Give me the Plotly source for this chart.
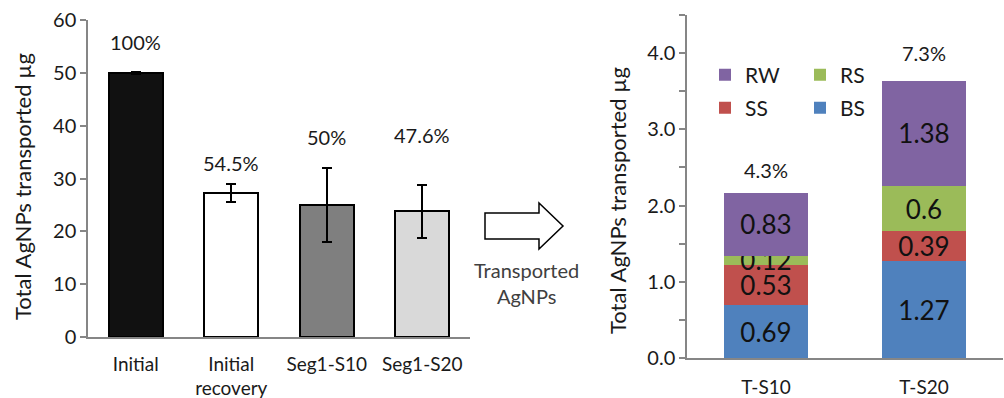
import plotly.graph_objects as go

# ---------------- data ----------------
left_categories = ["Initial", "Initial<br>recovery", "Seg1-S10", "Seg1-S20"]
left_values = [50.0, 27.2, 25.0, 23.8]
left_errors = [0.15, 1.7, 7.0, 5.0]
left_pct = ["100%", "54.5%", "50%", "47.6%"]
left_colors = ["#111111", "#ffffff", "#7f7f7f", "#d9d9d9"]

right_categories = ["T-S10", "T-S20"]
series_names = ["BS", "SS", "RS", "RW"]
bs_values = [0.69, 1.27]
ss_values = [0.53, 0.39]
rs_values = [0.12, 0.60]
rw_values = [0.83, 1.38]
right_pct = ["4.3%", "7.3%"]
series_colors = ["#4f81bd", "#c0504d", "#9bbb59", "#8064a2"]

left_ticks = [0, 10, 20, 30, 40, 50, 60]
right_tickvals = [0, 0.5, 1.0, 1.5, 2.0, 2.5, 3.0, 3.5, 4.0, 4.5]
right_ticktext = ["0.0", "", "1.0", "", "2.0", "", "3.0", "", "4.0", ""]

# layout-only positions for the percentage labels (data units)
left_pct_y = [55.9, 33.0, 37.9, 38.3]
right_pct_y = [2.46, 4.0]

W, H = 1004, 398
FONT = "Lato"
TXT = "#1a1a1a"
AX = "#868686"


def fx(px):
    return px / W


def fy(py):
    return 1 - py / H


fig = go.Figure()

# left chart
fig.add_trace(go.Bar(
    x=left_categories, y=left_values,
    marker=dict(color=left_colors, line=dict(color="#000000", width=2)),
    error_y=dict(type="data", array=left_errors, color="#000000", thickness=2, width=5),
    width=0.57, showlegend=False, xaxis="x", yaxis="y",
))

# right stacked chart
stack = [bs_values, ss_values, rs_values, rw_values]
legend_of = {"BS": "legend2", "SS": "legend2", "RS": "legend", "RW": "legend"}
rank_of = {"RW": 1, "RS": 2, "SS": 1, "BS": 2}
for name, vals, col in zip(series_names, stack, series_colors):
    fig.add_trace(go.Bar(
        x=right_categories, y=vals, name=name,
        marker=dict(color=col, line=dict(width=0)),
        text=[f"{v:g}" for v in vals], textposition="inside",
        insidetextanchor="middle", textangle=0, constraintext="none",
        textfont=dict(family=FONT, size=26, color="#111111"),
        width=0.53, xaxis="x2", yaxis="y2",
        legend=legend_of[name], legendrank=rank_of[name],
    ))

annotations = []
for cat, yv, t in zip(left_categories, left_pct_y, left_pct):
    annotations.append(dict(x=cat, y=yv, xref="x", yref="y", text=t, showarrow=False,
                            xanchor="center", yanchor="middle",
                            font=dict(family=FONT, size=20, color=TXT)))
for cat, yv, t in zip(right_categories, right_pct_y, right_pct):
    annotations.append(dict(x=cat, y=yv, xref="x2", yref="y2", text=t, showarrow=False,
                            xanchor="center", yanchor="middle",
                            font=dict(family=FONT, size=20, color=TXT)))

# y-axis titles
annotations.append(dict(x=fx(22), y=fy(187), xref="paper", yref="paper",
                        xanchor="center", yanchor="middle",
                        text="Total AgNPs transported µg", textangle=-90, showarrow=False,
                        font=dict(family=FONT, size=22, color=TXT)))
annotations.append(dict(x=fx(617), y=fy(201), xref="paper", yref="paper",
                        xanchor="center", yanchor="middle",
                        text="Total AgNPs transported µg", textangle=-90, showarrow=False,
                        font=dict(family=FONT, size=22, color=TXT)))
# arrow caption
annotations.append(dict(x=fx(526), y=fy(283), xref="paper", yref="paper",
                        xanchor="center", yanchor="middle",
                        text="Transported<br>AgNPs", showarrow=False,
                        font=dict(family=FONT, size=20, color="#404040")))

# block arrow
pts = [(485, 213), (539, 213), (539, 203), (563, 226), (539, 249), (539, 239), (485, 239)]
path = "M " + " L ".join(f"{fx(a):.5f},{fy(b):.5f}" for a, b in pts) + " Z"
shapes = [dict(type="path", path=path, xref="paper", yref="paper",
               line=dict(color="#000000", width=1.5), fillcolor="#ffffff")]

axis_common = dict(showline=True, linecolor=AX, linewidth=1.5, showgrid=False, zeroline=False,
                   automargin=False, fixedrange=True)

fig.update_layout(
    width=W, height=H,
    margin=dict(l=0, r=0, t=0, b=0, autoexpand=False),
    paper_bgcolor="#ffffff", plot_bgcolor="rgba(0,0,0,0)",
    barmode="stack",
    font=dict(family=FONT, size=16, color=TXT),
    xaxis=dict(domain=[fx(88), fx(470)], anchor="y", ticks="", tickfont=dict(size=19, color=TXT),
               ticklabelstandoff=9, **axis_common),
    yaxis=dict(domain=[fy(337), fy(20)], anchor="x", range=[0, 60], tickvals=left_ticks,
               ticks="outside", ticklen=6, tickcolor=AX, tickwidth=1.5,
               tickfont=dict(size=20, color=TXT), **axis_common),
    xaxis2=dict(domain=[fx(687), fx(1003)], anchor="y2", ticks="", tickfont=dict(size=19, color=TXT),
                ticklabelstandoff=11, **axis_common),
    yaxis2=dict(domain=[fy(358), fy(15)], anchor="x2", range=[0, 4.5], tickvals=right_tickvals,
                ticktext=right_ticktext, ticks="outside", ticklen=6, tickcolor=AX, tickwidth=1.5,
                tickfont=dict(size=20, color=TXT), **axis_common),
    legend=dict(orientation="h", x=fx(705), y=fy(75), xanchor="left", yanchor="middle",
                entrywidth=50, traceorder="normal", bgcolor="rgba(0,0,0,0)",
                font=dict(size=21, color=TXT)),
    legend2=dict(orientation="h", x=fx(705), y=fy(108), xanchor="left", yanchor="middle",
                 entrywidth=50, traceorder="normal", bgcolor="rgba(0,0,0,0)",
                 font=dict(size=21, color=TXT)),
    annotations=annotations,
    shapes=shapes,
)

fig.write_html("out.html")
